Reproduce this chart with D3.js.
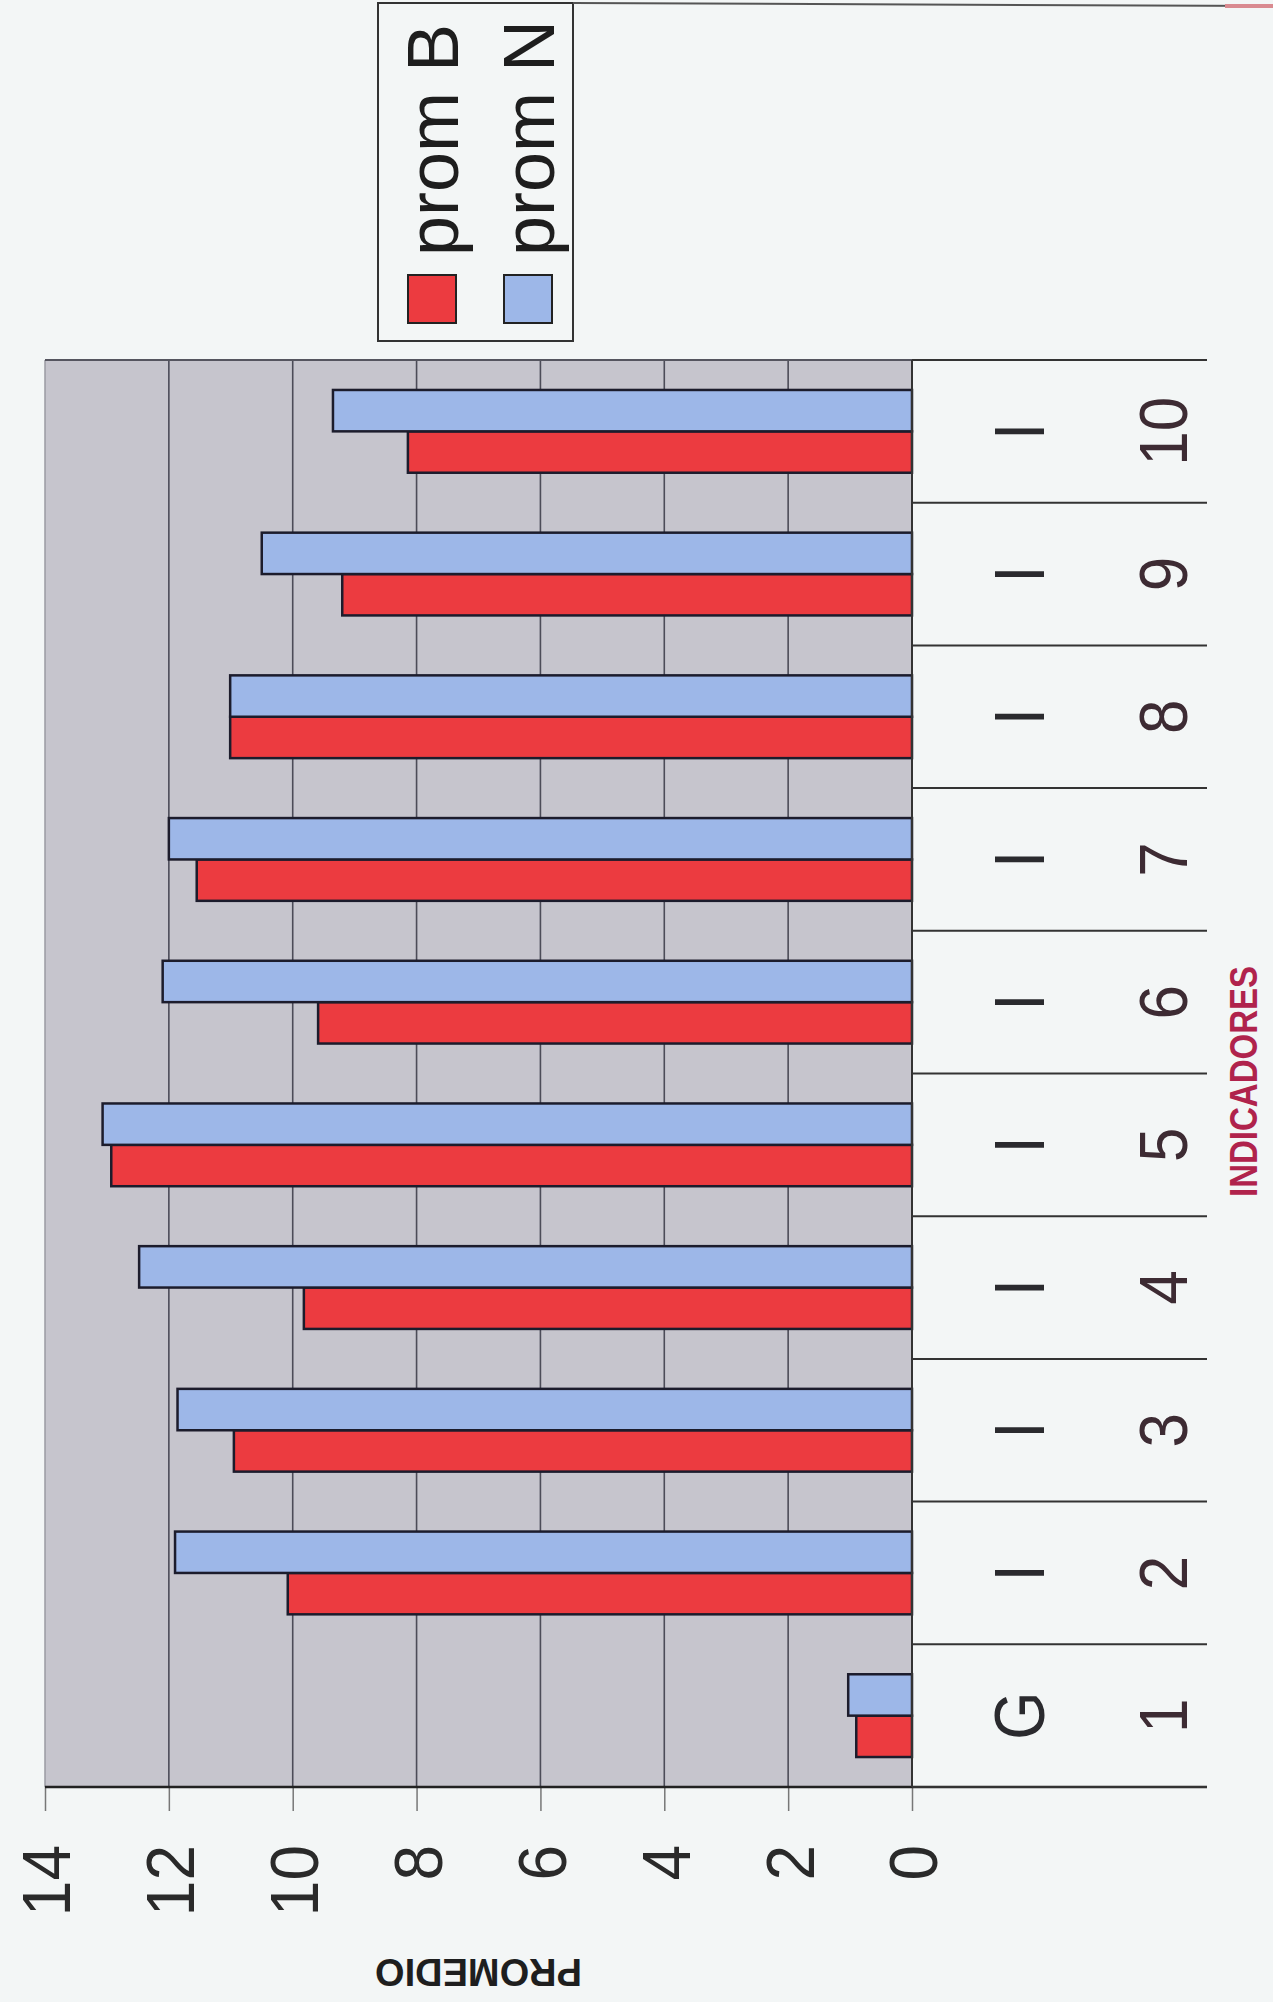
<!DOCTYPE html>
<html>
<head>
<meta charset="utf-8">
<script src="https://cdn.jsdelivr.net/npm/d3@7"></script>
<style>
  html, body { margin: 0; padding: 0; background: #f3f6f6; }
  svg { display: block; }
  text { font-family: "Liberation Sans", Arial, sans-serif; }
</style>
</head>
<body>
<svg id="chart" width="1273" height="2002"></svg>
<script>
// Indicator numbers (outer category level) and group letters (inner level)
const categories = ["1", "2", "3", "4", "5", "6", "7", "8", "9", "10"];
const groupLabels = ["G", "I", "I", "I", "I", "I", "I", "I", "I", "I"];
// Average scores per indicator
const promB = [0.9, 10.08, 10.95, 9.82, 12.93, 9.59, 11.55, 11.01, 9.2, 8.14];
const promN = [1.03, 11.9, 11.86, 12.48, 13.07, 12.1, 12.0, 11.01, 10.5, 9.35];
const seriesNames = ["prom B", "prom N"];
const seriesColors = ["#ec3b40", "#9db7e8"];
const valueTicks = [0, 2, 4, 6, 8, 10, 12, 14];
const axisTitleX = "INDICADORES";
const axisTitleY = "PROMEDIO";

const svg = d3.select("#chart");

// The whole column chart is laid out in its own frame and turned a quarter turn
const plotLeft = 45, plotBottom = 1787;
const W = 1427;   // category extent
const H = 867;    // value extent
const labelZone = 295;

const rows = categories.map((c, i) => ({ cat: c, grp: groupLabels[i], values: [promB[i], promN[i]] }));

const g = svg.append("g").attr("transform", `translate(${plotLeft},${plotBottom}) rotate(-90)`);

const x0 = d3.scaleBand().domain(categories).range([0, W]).paddingInner(0.42).paddingOuter(0.21);
const x1 = d3.scaleBand().domain(seriesNames).range([0, x0.bandwidth()]);
const y = d3.scaleLinear().domain([0, 14]).range([H, 0]);
const step = x0.step();

// plot background
g.append("rect").attr("x", 0).attr("y", 0).attr("width", W).attr("height", H)
  .attr("fill", "#c6c5cd");

// gridlines
g.append("g").selectAll("line").data(valueTicks.filter(v => v > 0 && v < 14)).join("line")
  .attr("x1", 0).attr("x2", W).attr("y1", d => y(d)).attr("y2", d => y(d))
  .attr("stroke", "#4c4c58").attr("stroke-width", 1.6);

// plot borders (far value edge and far category edge)
g.append("line").attr("x1", 0).attr("x2", W).attr("y1", 0).attr("y2", 0)
  .attr("stroke", "#9a9aa2").attr("stroke-width", 1.5);
g.append("line").attr("x1", W).attr("x2", W).attr("y1", 0).attr("y2", H)
  .attr("stroke", "#55555f").attr("stroke-width", 2);

// bars
const groups = g.append("g").selectAll("g").data(rows).join("g")
  .attr("transform", d => `translate(${x0(d.cat)},0)`);
groups.selectAll("rect").data(d => d.values.map((v, k) => ({ name: seriesNames[k], v, k }))).join("rect")
  .attr("x", d => x1(d.name)).attr("width", x1.bandwidth())
  .attr("y", d => y(d.v)).attr("height", d => H - y(d.v))
  .attr("fill", d => seriesColors[d.k])
  .attr("stroke", "#1c1c2c").attr("stroke-width", 2.5);

// value axis
const yAxis = g.append("g")
  .call(d3.axisLeft(y).tickValues(valueTicks).tickSize(24).tickPadding(34).tickFormat(d3.format("d")));
yAxis.select(".domain").remove();
yAxis.selectAll(".tick line").attr("stroke", "#777").attr("stroke-width", 1.5);
yAxis.selectAll(".tick text")
  .attr("font-size", 64).attr("fill", "#2a2a2a")
  .attr("dy", "0.36em")
  .attr("transform", "scale(1,1.08)");

// value axis line runs through the category label zone too
g.append("line").attr("x1", 0).attr("x2", 0).attr("y1", 0).attr("y2", H + labelZone)
  .attr("stroke", "#222").attr("stroke-width", 2.5);
// category axis line at zero
g.append("line").attr("x1", 0).attr("x2", W).attr("y1", H).attr("y2", H)
  .attr("stroke", "#333").attr("stroke-width", 2);

// category dividers
const bounds = d3.range(categories.length + 1).map(i => i * step);
g.append("g").selectAll("line").data(bounds).join("line")
  .attr("x1", d => d).attr("x2", d => d).attr("y1", H).attr("y2", H + labelZone)
  .attr("stroke", "#333").attr("stroke-width", 2);

// category labels: two levels
const catLab = g.append("g").selectAll("g").data(rows).join("g")
  .attr("transform", d => `translate(${x0(d.cat) + x0.bandwidth() / 2},${H})`);
catLab.append("text")
  .attr("transform", "translate(0,106) scale(1,1.15)")
  .attr("text-anchor", "middle").attr("dy", "0.36em")
  .attr("font-size", 62).attr("fill", "#2a2a2e")
  .text(d => d.grp);
catLab.append("text")
  .attr("transform", "translate(0,250) scale(1,1.12)")
  .attr("text-anchor", "middle").attr("dy", "0.36em")
  .attr("font-size", 62).attr("fill", "#3d2b33")
  .text(d => d.cat);

// axis titles
g.append("text")
  .attr("transform", `translate(${W / 2 - 8},${H + labelZone + 36}) scale(1,1.15)`)
  .attr("text-anchor", "middle").attr("dy", "0.36em")
  .attr("font-size", 33).attr("font-weight", "bold").attr("fill", "#b0234c")
  .text(axisTitleX);
g.append("text")
  .attr("transform", `translate(-186,${H / 2}) rotate(-90)`)
  .attr("text-anchor", "middle").attr("dy", "0.36em")
  .attr("font-size", 38).attr("font-weight", "bold").attr("fill", "#1e1e1e")
  .text(axisTitleY);

// legend
const legend = svg.append("g");
legend.append("rect").attr("x", 378).attr("y", 3).attr("width", 195).attr("height", 338)
  .attr("fill", "#f3f6f6").attr("stroke", "#333").attr("stroke-width", 2);
const legItems = legend.selectAll("g.item").data(seriesNames).join("g").attr("class", "item")
  .attr("transform", (d, i) => `translate(${[457, 553][i]},0)`);
legItems.append("rect")
  .attr("x", -49).attr("y", 275).attr("width", 48).attr("height", 48)
  .attr("fill", (d, i) => seriesColors[i]).attr("stroke", "#222").attr("stroke-width", 2);
legItems.append("text")
  .attr("transform", "translate(1,256) rotate(-90)")
  .attr("font-size", 72).attr("fill", "#1e1e1e")
  .text(d => d);

// page rule along the top edge
svg.append("line").attr("x1", 573).attr("x2", 1273).attr("y1", 3).attr("y2", 6)
  .attr("stroke", "#555").attr("stroke-width", 2);
svg.append("line").attr("x1", 1225).attr("x2", 1273).attr("y1", 6).attr("y2", 6)
  .attr("stroke", "#d98a90").attr("stroke-width", 4);
</script>
</body>
</html>
